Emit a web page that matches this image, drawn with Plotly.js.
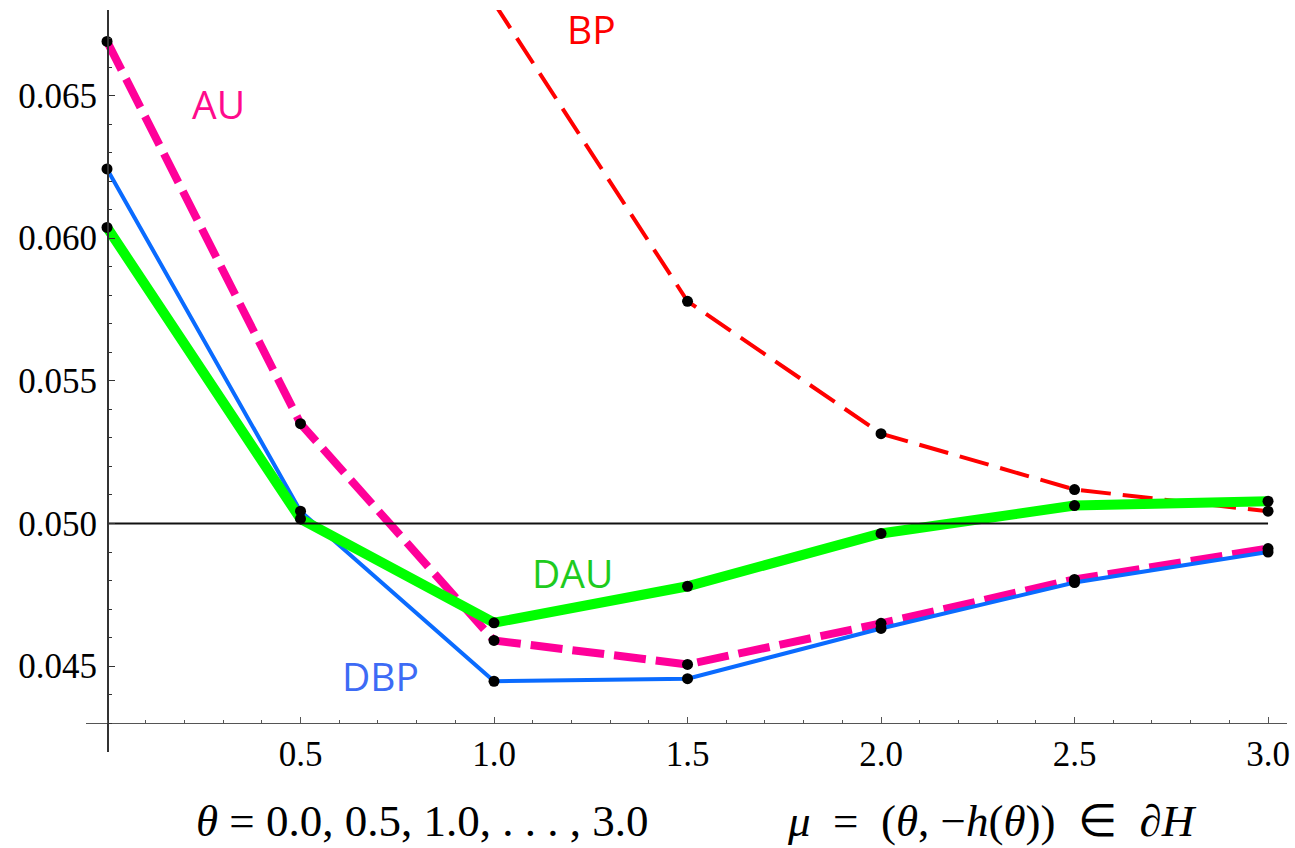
<!DOCTYPE html>
<html><head><meta charset="utf-8">
<script src="https://cdn.plot.ly/plotly-3.0.1.min.js"></script>
<style>html,body{margin:0;padding:0;background:#fff;}#chart{width:1295px;height:848px;}</style>
</head><body><div id="chart"></div>
<script>
// ---- data ----
const theta = [0.0, 0.5, 1.0, 1.5, 2.0, 2.5, 3.0];
const au  = [0.0669, 0.0535, 0.0459, 0.04506, 0.0465, 0.04804, 0.04912];
const dbp = [0.06243, 0.05043, 0.04447, 0.04456, 0.04632, 0.04793, 0.04900];
const dau = [0.06038, 0.05016, 0.04652, 0.04780, 0.04965, 0.05063, 0.05078];
const bpTheta = [1.0, 1.5, 2.0, 2.5, 3.0];
const bp = [0.06825, 0.05779, 0.05315, 0.05119, 0.05043];
const refTheta = [0.0, 3.0];
const refLevel = [0.05, 0.05];
const xTicks = [0.5, 1.0, 1.5, 2.0, 2.5, 3.0];
const xTickText = ['0.5', '1.0', '1.5', '2.0', '2.5', '3.0'];
const yTicks = [0.045, 0.050, 0.055, 0.060, 0.065];
const yTickText = ['0.045', '0.050', '0.055', '0.060', '0.065'];
const seriesLabels = ['AU', 'BP', 'DAU', 'DBP'];
const labelTheta = [0.287, 1.2506, 1.2016, 0.7054];
const labelLevel = [0.06472, 0.06734, 0.04828, 0.04467];

const C = {au:'#FF0099', bp:'#FF0000', dau:'#00FF00', dbp:'#0A6BFF'};
const labelColors = ['#FF0A8C', '#FF0000', '#1ECB1E', '#3D6BF5'];

const traces = [
  {x: bpTheta, y: bp, mode:'lines', line:{color:C.bp, width:4, dash:'30px,12px'}, hoverinfo:'skip'},
  {x: theta, y: au, mode:'lines', line:{color:C.au, width:8, dash:'32px,10px'}, hoverinfo:'skip'},
  {x: theta, y: dbp, mode:'lines', line:{color:C.dbp, width:4}, hoverinfo:'skip'},
  {x: theta, y: dau, mode:'lines', line:{color:C.dau, width:10}, hoverinfo:'skip'},
  {x: refTheta, y: refLevel, mode:'lines', line:{color:'#111', width:2}, hoverinfo:'skip'},
];
[[bpTheta,bp],[theta,au],[theta,dbp],[theta,dau]].forEach(([xs,ys])=>{
  traces.push({x:xs, y:ys, mode:'markers', marker:{color:'#000', size:11}, hoverinfo:'skip'});
});

const tickFont = {family:'Liberation Serif, Times New Roman, serif', size:35, color:'#000'};
const annotations = seriesLabels.map((t,i)=>({
  x: labelTheta[i], y: labelLevel[i], xref:'x', yref:'y', text:t, showarrow:false,
  xanchor:'center', yanchor:'middle',
  font:{family:'Open Sans, sans-serif', size:39, color:labelColors[i]}
}));
const titleFont = {family:'Liberation Serif, Times New Roman, serif', size:45, color:'#000'};
const sp = '\u2005', en = '\u2002';
annotations.push({xref:'paper', yref:'paper', x:(422-86)/1201, y:-(821-752)/742, xanchor:'center', yanchor:'middle',
  text:'<i>θ</i>'+sp+'='+sp+'0.0, 0.5, 1.0, . . . , 3.0', showarrow:false, font:titleFont});
annotations.push({xref:'paper', yref:'paper', x:(992-86)/1201, y:-(821-752)/742, xanchor:'center', yanchor:'middle',
  text:'<i>μ</i>'+en+'='+en+'(<i>θ</i>,'+sp+'−<i>h</i>(<i>θ</i>))'+en+'∈'+en+'∂<i>H</i>', showarrow:false, font:titleFont});

const layout = {
  width:1295, height:848,
  margin:{l:86, r:8, t:10, b:96, pad:0},
  paper_bgcolor:'#fff', plot_bgcolor:'#fff',
  showlegend:false,
  xaxis:{range:[-0.0543, 3.049], anchor:'free', position:0.0395,
    showline:true, linecolor:'#555', linewidth:1.5,
    ticks:'inside', ticklen:6, tickwidth:1, tickcolor:'#555',
    tickmode:'array', tickvals:xTicks, ticktext:xTickText, tickfont:tickFont,
    minor:{tick0:0, dtick:0.1, ticks:'inside', ticklen:3, tickcolor:'#555', showgrid:false},
    showgrid:false, zeroline:false},
  yaxis:{range:[0.04199, 0.068], anchor:'free', position:21/1201,
    showline:true, linecolor:'#333', linewidth:1.5,
    ticks:'inside', ticklen:6, tickwidth:1, tickcolor:'#333',
    ticklabelstandoff:3,
    tickmode:'array', tickvals:yTicks, ticktext:yTickText, tickfont:tickFont,
    minor:{tick0:0, dtick:0.001, ticks:'inside', ticklen:3, tickcolor:'#333', showgrid:false},
    showgrid:false, zeroline:false},
  annotations: annotations
};
Plotly.newPlot('chart', traces, layout, {staticPlot:true, displayModeBar:false});
</script>
</body></html>
